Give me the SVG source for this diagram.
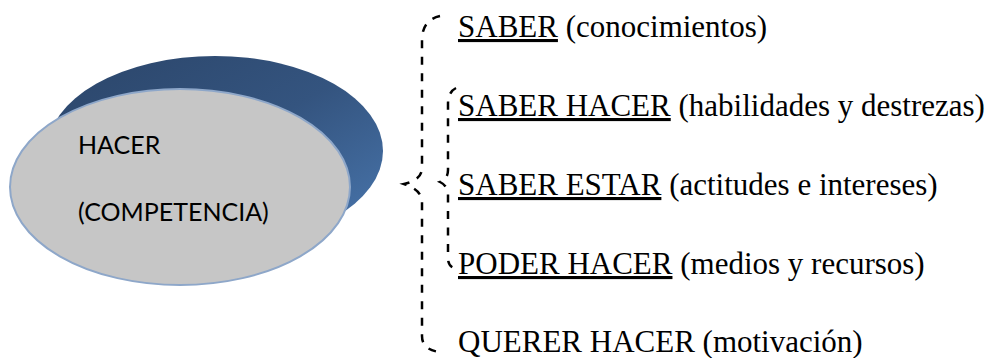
<svg xmlns="http://www.w3.org/2000/svg" width="990" height="358" viewBox="0 0 990 358">
<defs>
<linearGradient id="blue" x1="0" y1="0" x2="1" y2="1">
<stop offset="0" stop-color="#2b4569"/>
<stop offset="0.5" stop-color="#34547f"/>
<stop offset="1" stop-color="#4a78b0"/>
</linearGradient>
</defs>
<style>
.brace{fill:none;stroke:#000;stroke-width:2.5;stroke-dasharray:8 8.5}
</style>
<rect width="990" height="358" fill="#fff"/>
<g id="node-competencia">
<ellipse cx="215" cy="151" rx="168" ry="95" fill="url(#blue)"/>
<ellipse cx="180" cy="187" rx="170" ry="98" fill="#c6c6c6" stroke="#8ea7c9" stroke-width="2"/>
<g font-family="Lato, 'Liberation Sans', sans-serif" font-size="25" fill="#000">
<text x="78" y="154">HACER</text>
<text x="78" y="221">(COMPETENCIA)</text>
</g>
</g>
<g id="connectors">
<path class="brace" d="M440,16 Q422,20 422,40 L422,168 Q422,180 404,184 Q422,190 422,202 L422,336 Q422,350 440,352"/>
<path class="brace" d="M456,88 Q448,92 448,104 L448,170 Q448,179 440,182 Q448,186 448,195 L448,258 Q448,266 454,268"/>
</g>
<g font-family="'Liberation Serif', 'DejaVu Serif', serif" font-size="31" fill="#000">
<g id="node-saber">
<text x="458" y="37"><tspan text-decoration="underline">SABER</tspan> (conocimientos)</text>
</g>
<g id="node-saber-hacer">
<text x="458" y="116"><tspan text-decoration="underline">SABER HACER</tspan> (habilidades y destrezas)</text>
</g>
<g id="node-saber-estar">
<text x="458" y="195"><tspan text-decoration="underline">SABER ESTAR</tspan> (actitudes e intereses)</text>
</g>
<g id="node-poder-hacer">
<text x="458" y="274"><tspan text-decoration="underline">PODER HACER</tspan> (medios y recursos)</text>
</g>
<g id="node-querer-hacer">
<text x="458" y="352">QUERER HACER (motivación)</text>
</g>
</g>
</svg>
